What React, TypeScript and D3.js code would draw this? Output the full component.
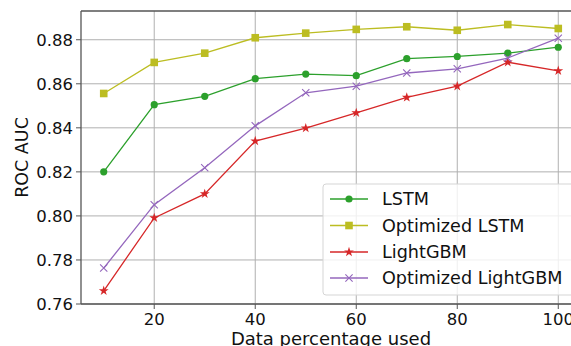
import * as d3 from 'd3';

const percentages = [10, 20, 30, 40, 50, 60, 70, 80, 90, 100];
const lstm = [0.820, 0.8505, 0.8543, 0.8623, 0.8644, 0.8637, 0.8714, 0.8724, 0.8739, 0.8766];
const optLstm = [0.8556, 0.8697, 0.8739, 0.8809, 0.8830, 0.8847, 0.8859, 0.8843, 0.8869, 0.8851];
const lightgbm = [0.766, 0.7991, 0.8100, 0.8340, 0.8399, 0.8468, 0.8538, 0.8589, 0.8698, 0.8659];
const optLightgbm = [0.7763, 0.8051, 0.8219, 0.8409, 0.8559, 0.8589, 0.8649, 0.8668, 0.8717, 0.8807];
const xTicks = [20, 40, 60, 80, 100];
const yTicks = [0.76, 0.78, 0.80, 0.82, 0.84, 0.86, 0.88];

const series = [
  { name: 'LSTM', values: lstm, color: '#2ca02c', marker: 'circle' },
  { name: 'Optimized LSTM', values: optLstm, color: '#bcbd22', marker: 'square' },
  { name: 'LightGBM', values: lightgbm, color: '#d62728', marker: 'star' },
  { name: 'Optimized LightGBM', values: optLightgbm, color: '#9467bd', marker: 'x' },
];

const W = 571;
const H = 346;
const plot = { left: 81, right: 581, top: 11, bottom: 304 };
const font = 'DejaVu Sans, sans-serif';

const Marker = ({ type, color, x, y }: { type: string; color: string; x: number; y: number }) => {
  if (type === 'circle') return <circle cx={x} cy={y} r={3.6} fill={color} />;
  if (type === 'square') return <rect x={x - 3.8} y={y - 3.8} width={7.6} height={7.6} fill={color} />;
  if (type === 'star') {
    const d = d3.symbol(d3.symbolStar, 30)() || '';
    return <path d={d} transform={`translate(${x},${y})`} fill={color} />;
  }
  const d = d3.symbol(d3.symbolX, 36)() || '';
  return <path d={d} transform={`translate(${x},${y})`} fill="none" stroke={color} strokeWidth={1.1} />;
};

export default function App() {
  const x = d3.scaleLinear().domain([5.5, 104.5]).range([plot.left, plot.right]);
  const y = d3.scaleLinear().domain([0.76, 0.89305]).range([plot.bottom, plot.top]);

  const line = d3.line<number>()
    .x((_, i) => x(percentages[i]))
    .y(d => y(d));

  const legendRows = [199, 225.5, 252, 278];

  return (
    <svg width={W} height={H} style={{ position: 'absolute', left: 0, top: 0 }} fontFamily={font}>
      <rect width={W} height={H} fill="#fff" />
      {/* grid */}
      {xTicks.map(t => (
        <line key={'gx' + t} x1={x(t)} x2={x(t)} y1={plot.top} y2={plot.bottom} stroke="#b0b0b0" strokeWidth={1} />
      ))}
      {yTicks.map(t => (
        <line key={'gy' + t} x1={plot.left} x2={plot.right} y1={y(t)} y2={y(t)} stroke="#b0b0b0" strokeWidth={1} />
      ))}

      {/* lines */}
      {series.map(s => (
        <g key={s.name}>
          <path d={line(s.values) || ''} fill="none" stroke={s.color} strokeWidth={1.3} />
          {s.values.map((v, i) => (
            <Marker key={i} type={s.marker} color={s.color} x={x(percentages[i])} y={y(v)} />
          ))}
        </g>
      ))}

      {/* spines */}
      <line x1={plot.left} x2={plot.left} y1={plot.top} y2={plot.bottom} stroke="#555" strokeWidth={1.3} />
      <line x1={plot.left} x2={plot.right} y1={plot.bottom} y2={plot.bottom} stroke="#555" strokeWidth={1.3} />
      <line x1={plot.left} x2={plot.right} y1={plot.top} y2={plot.top} stroke="#555" strokeWidth={1.3} />

      {/* y axis */}
      {yTicks.map(t => (
        <g key={'yt' + t}>
          <line x1={plot.left - 5} x2={plot.left} y1={y(t)} y2={y(t)} stroke="#555" strokeWidth={1} />
          <text x={73} y={y(t)} dy="0.36em" textAnchor="end" fontSize={16.5} fill="#111">
            {t.toFixed(2)}
          </text>
        </g>
      ))}
      {/* x axis */}
      {xTicks.map(t => (
        <g key={'xt' + t}>
          <line x1={x(t)} x2={x(t)} y1={plot.bottom} y2={plot.bottom + 5} stroke="#555" strokeWidth={1} />
          <text x={x(t)} y={325} textAnchor="middle" fontSize={16.5} fill="#111">
            {t}
          </text>
        </g>
      ))}

      <text x={(plot.left + plot.right) / 2} y={345} textAnchor="middle" fontSize={18} fill="#111">
        Data percentage used
      </text>
      <text transform={`translate(28,${(plot.top + plot.bottom) / 2}) rotate(-90)`} textAnchor="middle" fontSize={17.5} fill="#111">
        ROC AUC
      </text>

      {/* legend */}
      <rect x={323} y={184} width={252} height={111} rx={3} fill="#fff" fillOpacity={0.8} stroke="#d5d5d5" strokeWidth={1} />
      {series.map((s, i) => (
        <g key={'lg' + s.name}>
          <line x1={330} x2={368} y1={legendRows[i]} y2={legendRows[i]} stroke={s.color} strokeWidth={1.3} />
          <Marker type={s.marker} color={s.color} x={349} y={legendRows[i]} />
          <text x={382} y={legendRows[i]} dy="0.36em" fontSize={17.6} fill="#111">
            {s.name}
          </text>
        </g>
      ))}
    </svg>
  );
}
